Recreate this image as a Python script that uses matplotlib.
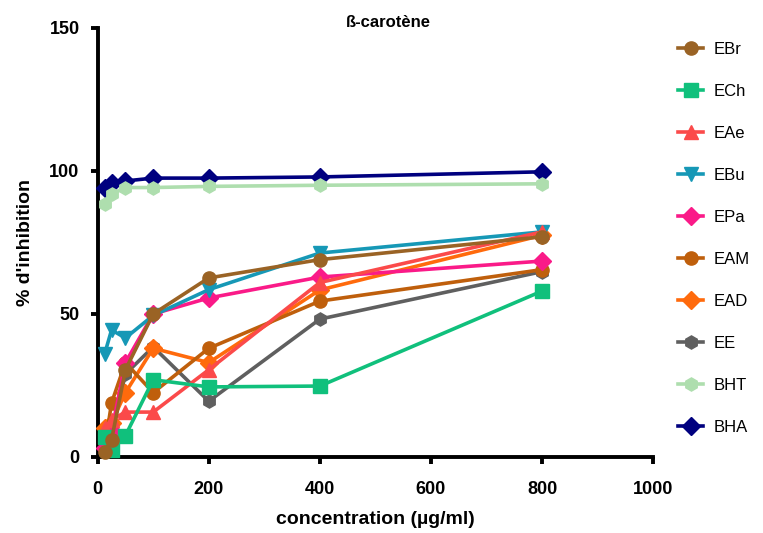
import matplotlib
matplotlib.use("Agg")
import matplotlib.pyplot as plt

plt.rcParams["font.family"] = ["Liberation Sans", "DejaVu Sans"]

# concentrations (µg/ml)
conc = [12.5, 25, 50, 100, 200, 400, 800]

# % inhibition per extract
EBr = [1.7, 6, 30.5, 50, 62.6, 69, 77]
ECh = [7, 2.5, 7.5, 27, 24.5, 24.8, 58]
EAe = [10, 13, 15.7, 15.7, 30.5, 61, 78.7]
EBu = [36, 44.4, 41.6, 49.5, 58.5, 71.3, 78.7]
EPa = [3, 9, 33, 50, 55.6, 62.9, 68.5]
EAM = [3, 18.9, 33, 22.5, 38, 54.5, 65.5]
EAD = [10, 12, 22.5, 38, 33, 58.4, 77.5]
EE = [3, 8, 29, 38.5, 19.5, 48.2, 64.8]
BHT = [88.5, 92, 94.2, 94.2, 94.6, 95, 95.5]
BHA = [94, 95.8, 96.5, 97.5, 97.5, 97.9, 99.7]

names = ["EBr", "ECh", "EAe", "EBu", "EPa", "EAM", "EAD", "EE", "BHT", "BHA"]
series = [EBr, ECh, EAe, EBu, EPa, EAM, EAD, EE, BHT, BHA]
colors = ["#9a6325", "#10c07c", "#fb4a4a", "#1698b6", "#fa1a88",
          "#bf5f0c", "#ff6a0c", "#5f5f5f", "#aedeae", "#00007f"]
markers = ["o", "s", "^", "v", "D", "o", "D", "h", "h", "D"]

fig = plt.figure(figsize=(7.63, 5.33), dpi=100)
ax = fig.add_axes([0.128, 0.1426, 0.728, 0.805])

n = len(series)
for i in range(n):
    ax.plot(conc, series[i], color=colors[i], marker=markers[i],
            markersize=9.5, linewidth=2.6, label=names[i],
            zorder=20 - i, clip_on=False)

ax.set_xlim(0, 1000)
ax.set_ylim(0, 150)
ax.set_xticks([0, 200, 400, 600, 800, 1000])
ax.set_yticks([0, 50, 100, 150])

for side in ["top", "right"]:
    ax.spines[side].set_visible(False)
for side in ["left", "bottom"]:
    ax.spines[side].set_linewidth(2.8)

ax.tick_params(axis="both", width=2.8, length=5, labelsize=13)
ax.tick_params(axis="x", pad=12)
ax.tick_params(axis="y", pad=8)
for lab in ax.get_xticklabels() + ax.get_yticklabels():
    lab.set_fontweight("bold")

fig.text(388 / 763, 1 - 22 / 533, "ß-carotène", fontsize=12,
         fontweight="bold", ha="center", va="center")
ax.set_xlabel("concentration (µg/ml)", fontsize=14, fontweight="bold",
              labelpad=10)
ax.set_ylabel("% d'inhibition", fontsize=14, fontweight="bold", labelpad=11)

ax.legend(loc="upper left", bbox_to_anchor=(0.889, 0.922),
          bbox_transform=fig.transFigure, frameon=False,
          fontsize=12, handlelength=1.5, handletextpad=0.6,
          labelspacing=1.62, borderpad=0, borderaxespad=0)

fig.savefig("out.png", dpi=100)
